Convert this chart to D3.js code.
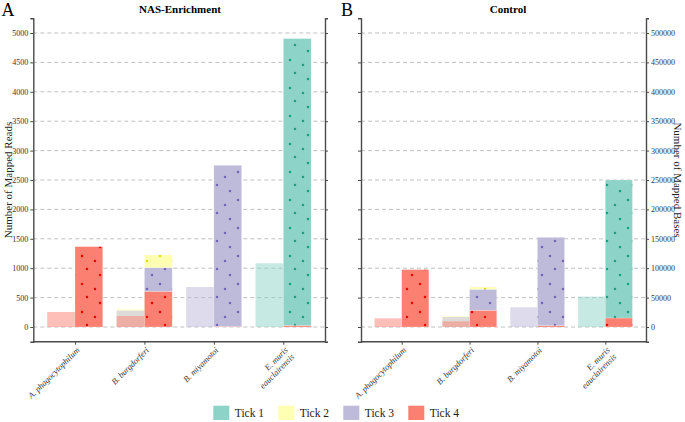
<!DOCTYPE html>
<html>
<head>
<meta charset="utf-8">
<script src="https://cdn.jsdelivr.net/npm/d3@7/dist/d3.min.js"></script>
<style>
  body { margin: 0; background: #fff; }
  svg { display: block; }
  text { font-family: "Liberation Serif", "DejaVu Serif", serif; }
</style>
</head>
<body>
<svg id="chart" width="685" height="422"></svg>
<script>
'use strict';

// categories and tick groups
var categories = ['A. phagocytophilum', 'B. burgdorferi', 'B. miyamotoi', 'E. muris eauclairensis'];
var ticks = ['Tick 1', 'Tick 2', 'Tick 3', 'Tick 4'];

// NAS-Enrichment, rows = Tick 1..4, cols = categories
var nasLight = [
  [0, 0, 0, 1083],
  [0, 313, 0, 0],
  [0, 279, 680, 0],
  [255, 187, 0, 0]
];
var nasStacked = [
  [0, 0, 0, 4880],
  [0, 215, 0, 0],
  [0, 403, 2740, 0],
  [1367, 607, 10, 25]
];

// Control
var ctlLight = [
  [0, 0, 0, 51700],
  [0, 18700, 0, 0],
  [0, 17000, 33500, 0],
  [14800, 9700, 0, 0]
];
var ctlStacked = [
  [0, 0, 0, 234700],
  [0, 3900, 0, 0],
  [0, 35700, 150100, 0],
  [97600, 28400, 2400, 15300]
];

var nasTicks = d3.range(0, 5001, 500);
var ctlTicks = d3.range(0, 500001, 50000);

var fillColor = d3.scaleOrdinal().domain(ticks).range(['#8dd3c7', '#ffffb3', '#bebada', '#fb8072']);
var dotColor = d3.scaleOrdinal().domain(ticks).range(['#12a083', '#e8dc10', '#7563b8', '#f00000']);

var svg = d3.select('#chart');
var defs = svg.append('defs');

// dotted pattern, one per tick colour
var dotSpots = [[4, 4], [17, 9], [9, 17], [22, 23]];
ticks.forEach(function(t, i) {
  var p = defs.append('pattern')
    .attr('id', 'dots' + i)
    .attr('patternUnits', 'userSpaceOnUse')
    .attr('width', 26)
    .attr('height', 28);
  p.append('rect').attr('width', 26).attr('height', 28).attr('fill', fillColor(t));
  dotSpots.forEach(function(s) {
    p.append('circle').attr('cx', s[0]).attr('cy', s[1]).attr('r', 1.25).attr('fill', dotColor(t));
  });
});

var plotTop = 18.3, plotBottom = 341.7;

var drawPanel = function(opts) {
  var x = d3.scalePoint().domain(categories).range([opts.x0, opts.x1]).padding(0.6);
  var y = d3.scaleLinear().domain(opts.domain).range([plotBottom, plotTop]);
  var half = x.step() * 0.4;
  var g = svg.append('g');

  // grid
  g.selectAll('line.grid').data(opts.tickVals).enter().append('line')
    .attr('class', 'grid')
    .attr('x1', opts.x0).attr('x2', opts.x1)
    .attr('y1', function(d) { return y(d); }).attr('y2', function(d) { return y(d); })
    .attr('stroke', '#c0c0c0').attr('stroke-width', 1).attr('stroke-dasharray', '4,3');

  // light bars, overlapping
  var lightRects = [];
  opts.light.forEach(function(row, ti) {
    row.forEach(function(v, ci) {
      if (v > 0) lightRects.push({ tick: ticks[ti], cat: categories[ci], value: v });
    });
  });
  lightRects.sort(function(a, b) { return b.value - a.value; });
  g.selectAll('rect.light').data(lightRects).enter().append('rect')
    .attr('class', 'light')
    .attr('x', function(d) { return x(d.cat) - half; })
    .attr('width', half)
    .attr('y', function(d) { return y(d.value); })
    .attr('height', function(d) { return y(0) - y(d.value); })
    .attr('fill', function(d) { return fillColor(d.tick); })
    .attr('fill-opacity', 0.5);

  // stacked dotted bars, Tick 4 at the bottom
  var stackRects = [];
  categories.forEach(function(c, ci) {
    var base = 0;
    for (var ti = ticks.length - 1; ti >= 0; ti--) {
      var v = opts.stacked[ti][ci];
      if (v > 0) {
        stackRects.push({ tick: ticks[ti], ti: ti, cat: c, y0: base, y1: base + v });
        base += v;
      }
    }
  });
  g.selectAll('rect.stack').data(stackRects).enter().append('rect')
    .attr('class', 'stack')
    .attr('x', function(d) { return x(d.cat); })
    .attr('width', half)
    .attr('y', function(d) { return y(d.y1); })
    .attr('height', function(d) { return y(d.y0) - y(d.y1); })
    .attr('fill', function(d) { return 'url(#dots' + d.ti + ')'; })
    .attr('stroke', '#ffffff').attr('stroke-opacity', 0.35).attr('stroke-width', 0.6);

  // axes
  var fmt = d3.format('d');
  var leftAxis = d3.axisLeft(y).tickValues(opts.tickVals).tickSize(3).tickPadding(2).tickFormat(fmt);
  var rightAxis = d3.axisRight(y).tickValues(opts.tickVals).tickSize(3).tickPadding(2).tickFormat(fmt);
  if (opts.labelSide === 'left') rightAxis.tickFormat('');
  else leftAxis.tickFormat('');

  var styleAxis = function(a) {
    a.attr('font-family', null).attr('font-size', null);
    a.select('.domain').attr('stroke', '#4a4a4a').attr('stroke-width', 1.4);
    a.selectAll('.tick line').attr('stroke', '#4a4a4a');
    a.selectAll('.tick text').attr('fill', '#333').style('font-size', '8px');
  };
  g.append('g').attr('transform', 'translate(' + opts.x0 + ',0)').call(leftAxis).call(styleAxis);
  g.append('g').attr('transform', 'translate(' + opts.x1 + ',0)').call(rightAxis).call(styleAxis);

  var bx = g.append('g').attr('transform', 'translate(0,' + plotBottom + ')')
    .call(d3.axisBottom(x).tickSize(3).tickFormat(''));
  bx.select('.domain').attr('stroke', '#4a4a4a').attr('stroke-width', 1.4)
    .attr('d', 'M' + opts.x0 + ',0H' + opts.x1);
  bx.selectAll('.tick line').attr('stroke', '#4a4a4a');

  // rotated category labels
  categories.forEach(function(c) {
    var lines = c === 'E. muris eauclairensis' ? ['E. muris', 'eauclairensis'] : [c];
    var t = g.append('text')
      .attr('transform', 'translate(' + (x(c) + 2) + ',' + (plotBottom + 6) + ') rotate(-45)')
      .attr('text-anchor', 'end')
      .style('font-size', '8.5px').style('font-style', 'italic').attr('fill', '#333');
    lines.forEach(function(l, i) {
      t.append('tspan').attr('x', 0).attr('dy', i === 0 ? '0.5em' : '1.1em').text(l);
    });
  });

  // title
  g.append('text').attr('x', opts.titleX).attr('y', 13)
    .attr('text-anchor', 'middle').style('font-size', '11px').style('font-weight', 'bold')
    .text(opts.title);
  g.append('text').attr('x', opts.letterX).attr('y', 16)
    .style('font-size', '18px').text(opts.letter);
};

drawPanel({ x0: 33.3, x1: 325, domain: [-250, 5250], tickVals: nasTicks, light: nasLight,
  stacked: nasStacked, labelSide: 'left', title: 'NAS-Enrichment', titleX: 180, letter: 'A', letterX: 1.5 });
drawPanel({ x0: 361, x1: 646, domain: [-25000, 525000], tickVals: ctlTicks, light: ctlLight,
  stacked: ctlStacked, labelSide: 'right', title: 'Control', titleX: 508, letter: 'B', letterX: 341 });

// axis titles
svg.append('text')
  .attr('transform', 'translate(11.5,180) rotate(-90)')
  .attr('text-anchor', 'middle').style('font-size', '11px').attr('fill', '#222')
  .text('Number of Mapped Reads');
svg.append('text')
  .attr('transform', 'translate(673.5,180) rotate(90)')
  .attr('text-anchor', 'middle').style('font-size', '11px').attr('fill', '#222')
  .text('Number of Mapped Bases');

// legend
var legend = svg.append('g').selectAll('g').data(ticks).enter().append('g')
  .attr('transform', function(d, i) { return 'translate(' + (213.3 + i * 65) + ',405.7)'; });
legend.append('rect').attr('width', 16).attr('height', 14.3)
  .attr('fill', function(d) { return fillColor(d); });
legend.append('text').attr('x', 21.5).attr('y', 11.2)
  .style('font-size', '11.5px').attr('fill', '#222')
  .text(function(d) { return d; });
</script>
</body>
</html>
